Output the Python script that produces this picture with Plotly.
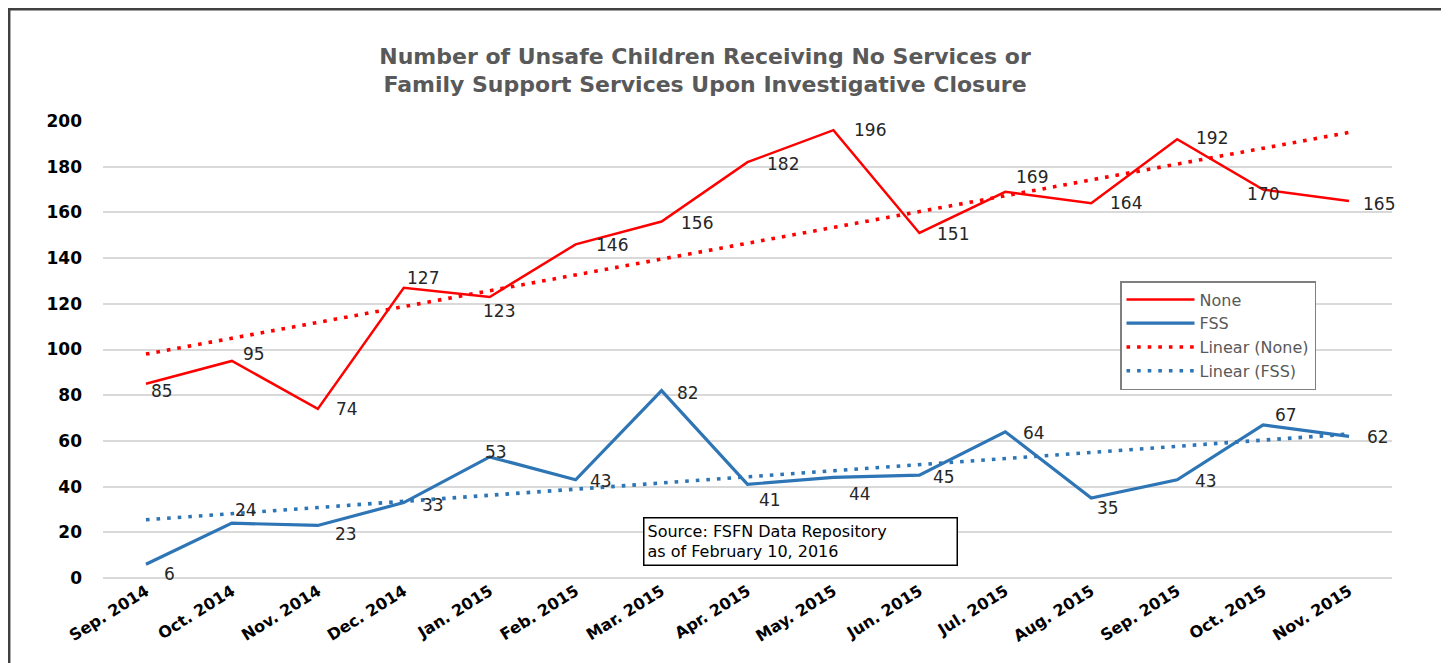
import plotly.graph_objects as go

# months on the x axis
months = ["Sep. 2014", "Oct. 2014", "Nov. 2014", "Dec. 2014", "Jan. 2015",
          "Feb. 2015", "Mar. 2015", "Apr. 2015", "May. 2015", "Jun. 2015",
          "Jul. 2015", "Aug. 2015", "Sep. 2015", "Oct. 2015", "Nov. 2015"]

none_vals = [85, 95, 74, 127, 123, 146, 156, 182, 196, 151, 169, 164, 192, 170, 165]
fss_vals = [6, 24, 23, 33, 53, 43, 82, 41, 44, 45, 64, 35, 43, 67, 62]

# linear trend end points (first / last month)
none_trend = [98, 195]
fss_trend = [25.5, 63]

# data label nudges in px (right, down) from each point
none_nudge = [(16, 7), (22, -7), (29, 0), (19, -10), (9, 14), (36, 1), (35, 1), (35, 2),
              (37, 0), (34, 1), (27, -15), (35, 0), (35, -1), (0, 4), (30, 3)]
fss_nudge = [(24, 10), (14, -13), (28, 9), (29, 2), (6, -5), (25, 1), (26, 2), (22, 16),
             (27, 17), (25, 2), (29, 1), (17, 10), (29, 1), (23, -10), (29, 1)]

RED = "#FF0000"
BLUE = "#2E75B6"
FONT = "DejaVu Sans, Verdana, sans-serif"

# the page body adds ~8px, so the figure is laid out a bit smaller
W, H = 1441, 655
L, T, PW, PH = 95, 113, 1289, 457

fig = go.Figure()

fig.add_trace(go.Scatter(x=months, y=none_vals, name="None", mode="lines",
                         line=dict(color=RED, width=2.5)))
fig.add_trace(go.Scatter(x=months, y=fss_vals, name="FSS", mode="lines",
                         line=dict(color=BLUE, width=3.2)))
fig.add_trace(go.Scatter(x=[months[0], months[-1]], y=none_trend, name="Linear (None)",
                         mode="lines", line=dict(color=RED, width=3.6, dash="3.6px,7px")))
fig.add_trace(go.Scatter(x=[months[0], months[-1]], y=fss_trend, name="Linear (FSS)",
                         mode="lines", line=dict(color=BLUE, width=3.6, dash="3.6px,7px")))

# data labels
for vals, nudge in [(none_vals, none_nudge), (fss_vals, fss_nudge)]:
    for m, v, (dx, dy) in zip(months, vals, nudge):
        fig.add_annotation(x=m, y=v, text=str(v), showarrow=False,
                           xanchor="center", yanchor="middle",
                           xshift=dx, yshift=-dy,
                           font=dict(family=FONT, size=17, color="#262626"))

fig.update_layout(
    width=W, height=H,
    margin=dict(l=L, r=W - L - PW, t=T, b=H - T - PH),
    paper_bgcolor="white", plot_bgcolor="white",
    font=dict(family=FONT, color="#000000"),
    title=dict(
        text="<b>Number of Unsafe Children Receiving No Services or<br>"
             "Family Support Services Upon Investigative Closure</b>",
        x=697 / W, xanchor="center", xref="container",
        y=1 - 55.5 / H, yanchor="middle", yref="container",
        font=dict(family=FONT, size=22, color="#595959"),
    ),
    legend=dict(
        x=(1112 - L) / PW, xanchor="left",
        y=(T + PH - 273) / PH, yanchor="top",
        bgcolor="white", bordercolor="#7f7f7f", borderwidth=1.5,
        font=dict(family=FONT, size=16, color="#595959"),
        tracegroupgap=0, itemwidth=68,
    ),
    showlegend=True,
)

fig.update_xaxes(
    type="category", range=[-0.5, 14.5],
    tickangle=-32, showgrid=False, showline=False, ticks="",
    tickfont=dict(family=FONT, size=16, color="#000000", weight="bold"),
)
fig.update_yaxes(
    range=[0, 200], dtick=20, showline=False, ticks="",
    gridcolor="#d9d9d9", gridwidth=1.5, zeroline=True,
    zerolinecolor="#d9d9d9", zerolinewidth=1.5,
    tickfont=dict(family=FONT, size=17, color="#000000", weight="bold"),
    ticklabelstandoff=20,
)

# source note box
fig.add_annotation(
    text="Source: FSFN Data Repository<br>as of February 10, 2016",
    xref="paper", yref="paper",
    x=(635 - L) / PW, xanchor="left",
    y=(T + PH - 509) / PH, yanchor="top",
    showarrow=False, align="left", width=306,
    font=dict(family=FONT, size=16, color="#000000"),
    bordercolor="#000000", borderwidth=1.5, borderpad=3, bgcolor="white",
)

# outer frame of the picture
fig.add_shape(
    type="rect", xref="paper", yref="paper",
    x0=(1.2 - L) / PW, x1=(1435 - L) / PW,
    y0=(T + PH - 720) / PH, y1=(T + PH - 1.2) / PH,
    line=dict(color="#404040", width=2.5), layer="below",
)

fig.write_html("out.html")
